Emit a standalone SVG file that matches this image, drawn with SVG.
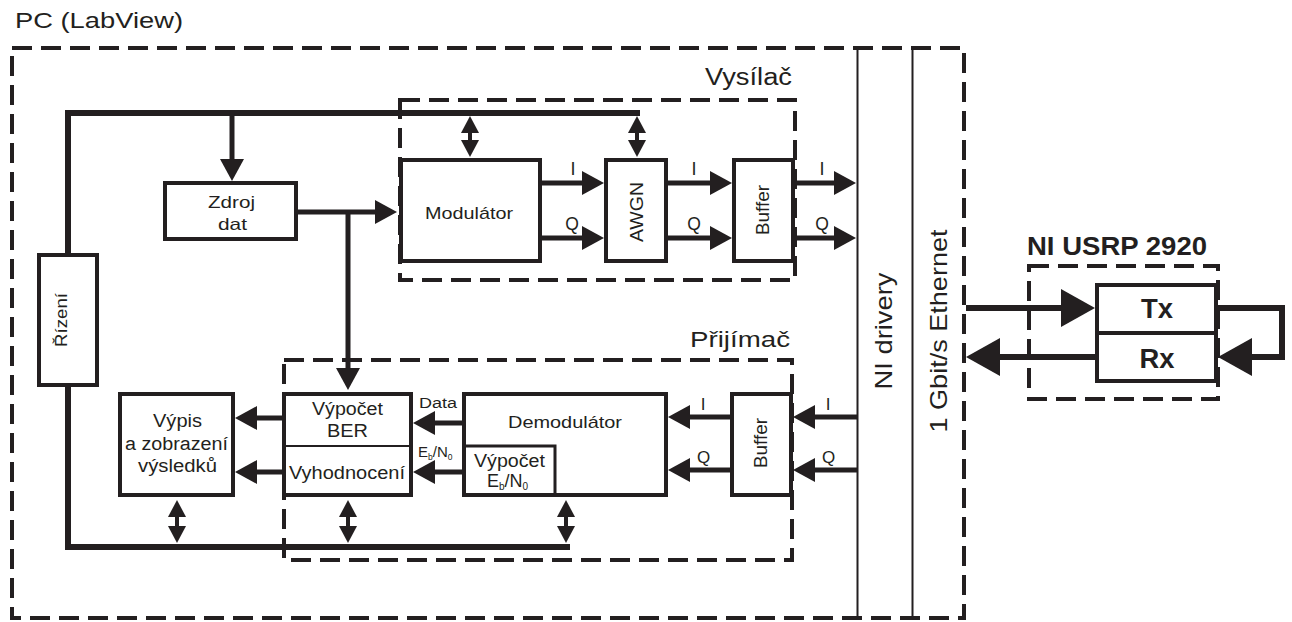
<svg xmlns="http://www.w3.org/2000/svg" width="1292" height="622" viewBox="0 0 1292 622">
<defs>
<style>
.box{fill:#fff;stroke:#231f20;stroke-width:4}
.dash{fill:none;stroke:#231f20;stroke-width:4;stroke-dasharray:20 9}
.thin{fill:none;stroke:#231f20;stroke-width:2}
.bus{fill:none;stroke:#231f20;stroke-width:6}
.fl{fill:none;stroke:#231f20;stroke-width:5;marker-end:url(#ah)}
.big{fill:none;stroke:#231f20;stroke-width:6;marker-end:url(#bh)}
.dbl{fill:none;stroke:#231f20;stroke-width:4;marker-start:url(#dh);marker-end:url(#dh)}
text{font-family:"Liberation Sans",Arial,sans-serif;fill:#231f20}
.m{text-anchor:middle}
.b{font-weight:bold}
</style>
<marker id="ah" viewBox="0 0 22 24" markerWidth="22" markerHeight="24" refX="8" refY="12" orient="auto-start-reverse" markerUnits="userSpaceOnUse"><path d="M0,0 L22,12 L0,24 z" fill="#231f20"/></marker>
<marker id="dh" viewBox="0 0 18 18" markerWidth="18" markerHeight="18" refX="6" refY="9" orient="auto-start-reverse" markerUnits="userSpaceOnUse"><path d="M0,0 L17,9 L0,18 z" fill="#231f20"/></marker>
<marker id="bh" viewBox="0 0 34 38" markerWidth="34" markerHeight="38" refX="12" refY="19" orient="auto-start-reverse" markerUnits="userSpaceOnUse"><path d="M0,0 L34,19 L0,38 z" fill="#231f20"/></marker>
</defs>
<rect width="1292" height="622" fill="#fff"/>

<g id="pc">
<rect class="dash" x="12" y="48" width="952" height="570"/>
<text x="15" y="28" font-size="22" textLength="168" lengthAdjust="spacingAndGlyphs">PC (LabView)</text>
</g>

<g id="vysilac">
<rect class="dash" x="400" y="100" width="395" height="180"/>
<text x="705" y="85" font-size="23" textLength="87" lengthAdjust="spacingAndGlyphs">Vysílač</text>
</g>

<g id="prijimac">
<rect class="dash" x="284" y="360" width="508" height="200"/>
<text x="690" y="347" font-size="22" textLength="100" lengthAdjust="spacingAndGlyphs">Přijímač</text>
</g>

<g id="ni-drivery">
<line class="thin" x1="857.5" y1="48" x2="857.5" y2="618"/>
<text class="m" transform="translate(892,331) rotate(-90)" font-size="24" textLength="117" lengthAdjust="spacingAndGlyphs">NI drivery</text>
</g>

<g id="ethernet">
<line class="thin" x1="912.5" y1="48" x2="912.5" y2="618"/>
<text class="m" transform="translate(947,331) rotate(-90)" font-size="24" textLength="203" lengthAdjust="spacingAndGlyphs">1 Gbit/s Ethernet</text>
</g>

<g id="connectors">
<path class="bus" d="M640,113 H68 V255"/>
<path class="bus" d="M68,385 V547 H570"/>
<path class="fl" d="M232,113 V167"/>
<path class="fl" d="M298,212 H383"/>
<path class="fl" d="M348,212 V376"/>
<path class="dbl" d="M470,127 V146"/>
<path class="dbl" d="M637,127 V146"/>
<path class="fl" d="M542,183 H590"/>
<path class="fl" d="M542,238 H590"/>
<path class="fl" d="M668,183 H718"/>
<path class="fl" d="M668,238 H718"/>
<path class="fl" d="M795,183 H842"/>
<path class="fl" d="M795,238 H842"/>
<path class="fl" d="M857,417 H807"/>
<path class="fl" d="M857,470 H807"/>
<path class="fl" d="M730,417 H682"/>
<path class="fl" d="M730,470 H682"/>
<path class="fl" d="M462,423 H427"/>
<path class="fl" d="M462,472 H427"/>
<path class="fl" d="M282,418 H249"/>
<path class="fl" d="M282,472 H249"/>
<path class="dbl" d="M177,511 V532"/>
<path class="dbl" d="M348,511 V532"/>
<path class="dbl" d="M566,511 V532"/>
<path class="big" d="M966,308 H1073"/>
<path class="big" d="M1095,357 H988"/>
<path class="big" d="M1218,308 H1282 V357 H1240"/>
</g>

<g id="rizeni">
<rect class="box" x="39" y="255" width="58" height="130"/>
<text class="m" transform="translate(67,320) rotate(-90)" font-size="17" textLength="54" lengthAdjust="spacingAndGlyphs">Řízení</text>
</g>

<g id="zdroj-dat">
<rect class="box" x="165" y="183" width="131" height="56"/>
<text class="m" x="231.5" y="208" font-size="16.5" textLength="47" lengthAdjust="spacingAndGlyphs">Zdroj</text>
<text class="m" x="232.5" y="230" font-size="16.5" textLength="29" lengthAdjust="spacingAndGlyphs">dat</text>
</g>

<g id="modulator">
<rect class="box" x="401" y="160" width="139" height="101"/>
<text class="m" x="469" y="219" font-size="17" textLength="88" lengthAdjust="spacingAndGlyphs">Modulátor</text>
</g>

<g id="awgn">
<rect class="box" x="606" y="160" width="60" height="101"/>
<text class="m" transform="translate(643,212) rotate(-90)" font-size="18" textLength="60" lengthAdjust="spacingAndGlyphs">AWGN</text>
</g>

<g id="buffer-tx">
<rect class="box" x="734" y="160" width="59" height="101"/>
<text class="m" transform="translate(769,210) rotate(-90)" font-size="17.5" textLength="50" lengthAdjust="spacingAndGlyphs">Buffer</text>
</g>

<g id="tx-labels">
<text class="m" x="573" y="175" font-size="18">I</text>
<text class="m" x="572" y="230" font-size="17.5">Q</text>
<text class="m" x="694" y="175" font-size="18">I</text>
<text class="m" x="694" y="230" font-size="17.5">Q</text>
<text class="m" x="822" y="175" font-size="18">I</text>
<text class="m" x="822" y="230" font-size="17.5">Q</text>
</g>

<g id="vypis">
<rect class="box" x="120" y="394" width="113" height="101"/>
<text class="m" x="177.5" y="427" font-size="18" textLength="49" lengthAdjust="spacingAndGlyphs">Výpis</text>
<text class="m" x="176.5" y="450" font-size="18" textLength="103" lengthAdjust="spacingAndGlyphs">a zobrazení</text>
<text class="m" x="177.5" y="472" font-size="18" textLength="79" lengthAdjust="spacingAndGlyphs">výsledků</text>
</g>

<g id="vypocet-ber">
<rect class="box" x="284" y="394" width="127" height="101"/>
<line class="thin" x1="284" y1="446" x2="411" y2="446"/>
<text class="m" x="347.5" y="415" font-size="18" textLength="71" lengthAdjust="spacingAndGlyphs">Výpočet</text>
<text class="m" x="347.5" y="437" font-size="18" textLength="41" lengthAdjust="spacingAndGlyphs">BER</text>
<text class="m" x="347" y="479" font-size="18" textLength="116" lengthAdjust="spacingAndGlyphs">Vyhodnocení</text>
</g>

<g id="demodulator">
<rect class="box" x="464" y="394" width="202" height="101"/>
<path d="M464,446 H555 V495" fill="none" stroke="#231f20" stroke-width="3"/>
<text class="m" x="565" y="428" font-size="17" textLength="114" lengthAdjust="spacingAndGlyphs">Demodulátor</text>
<text class="m" x="509.5" y="467" font-size="18" textLength="71" lengthAdjust="spacingAndGlyphs">Výpočet</text>
<text x="487" y="487" font-size="18">E<tspan font-size="10" dy="3">b</tspan><tspan dy="-3">/N</tspan><tspan font-size="10" dy="3">0</tspan></text>
</g>

<g id="buffer-rx">
<rect class="box" x="732" y="394" width="59" height="101"/>
<text class="m" transform="translate(767,443) rotate(-90)" font-size="17.5" textLength="50" lengthAdjust="spacingAndGlyphs">Buffer</text>
</g>

<g id="rx-labels">
<text x="419" y="408" font-size="14" textLength="38" lengthAdjust="spacingAndGlyphs">Data</text>
<text x="418" y="457" font-size="15">E<tspan font-size="8.5" dy="3">b</tspan><tspan dy="-3">/N</tspan><tspan font-size="8.5" dy="3">0</tspan></text>
<text class="m" x="703" y="410" font-size="17">I</text>
<text class="m" x="703.5" y="463" font-size="17">Q</text>
<text class="m" x="828" y="410" font-size="17">I</text>
<text class="m" x="828.5" y="463" font-size="17">Q</text>
</g>

<g id="usrp">
<rect class="dash" x="1029" y="266" width="189" height="133"/>
<text x="1027" y="255" font-size="25" class="b" textLength="180" lengthAdjust="spacingAndGlyphs">NI USRP 2920</text>
</g>

<g id="tx">
<rect class="box" x="1097" y="285" width="119" height="48"/>
<text class="m b" x="1157" y="318" font-size="27" textLength="32" lengthAdjust="spacingAndGlyphs">Tx</text>
</g>

<g id="rx">
<rect class="box" x="1097" y="333" width="119" height="48"/>
<text class="m b" x="1157" y="368" font-size="27" textLength="35" lengthAdjust="spacingAndGlyphs">Rx</text>
</g>
</svg>
